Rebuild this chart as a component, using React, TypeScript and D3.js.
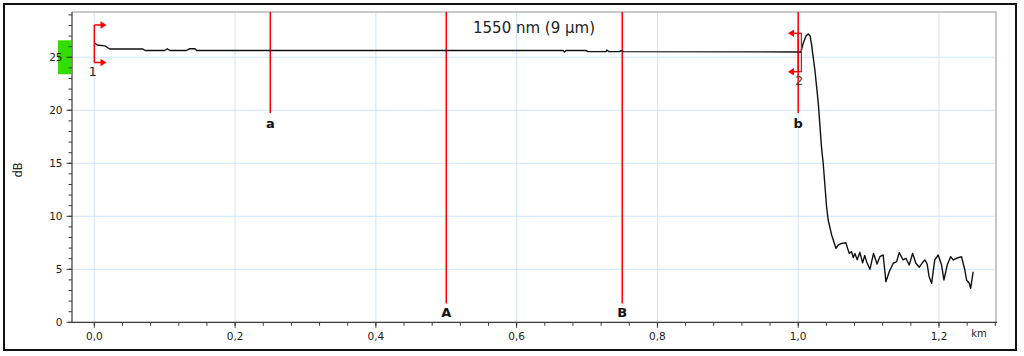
import React from "react";
import * as d3 from "d3";

// ---- data ----
const traceDist: number[] = [
  0.001, 0.004, 0.015, 0.022, 0.069, 0.072, 0.1, 0.1037, 0.1075, 0.131, 0.135, 0.143, 0.1455,
  0.4, 0.666, 0.668, 0.67, 0.699, 0.701, 0.727, 0.728, 0.731, 0.746, 0.748, 0.752, 1.0,
  1.0037, 1.007, 1.011, 1.0142, 1.017, 1.019, 1.0237, 1.0285, 1.033, 1.0355, 1.0403,
  1.0426, 1.0475, 1.0536, 1.0568, 1.0616, 1.0677, 1.0724, 1.0758, 1.0782, 1.0805, 1.0838, 1.0876,
  1.0915, 1.0945, 1.0972, 1.1019, 1.107, 1.112, 1.1161, 1.1207, 1.1246, 1.1293, 1.135, 1.1398,
  1.1435, 1.1491, 1.153, 1.1577, 1.1625, 1.1672, 1.172, 1.1776, 1.18, 1.1832, 1.186,
  1.1895, 1.194, 1.1989, 1.2037, 1.207, 1.2117, 1.2165, 1.2203, 1.225, 1.232, 1.2368,
  1.2392, 1.243, 1.245, 1.2486,
];
const traceDb: number[] = [
  26.32, 26.16, 26.07, 25.78, 25.78, 25.64, 25.64, 25.8, 25.64, 25.64, 25.8, 25.8, 25.64,
  25.64, 25.64, 25.5, 25.64, 25.64, 25.53, 25.53, 25.68, 25.53, 25.53, 25.62, 25.53, 25.5,
  25.47, 26.3, 27.0, 27.2, 27.0, 26.2, 23.8, 20.7, 16.6, 15.0, 10.9,
  9.65, 8.24, 6.98, 7.29, 7.45, 7.5, 6.5, 6.66, 6.1, 6.5, 5.9, 6.6,
  5.6, 6.3, 5.72, 5.0, 6.5, 5.5, 6.19, 6.35, 3.83, 4.77, 5.57, 5.72,
  6.57, 5.88, 6.04, 5.4, 6.5, 5.57, 5.2, 5.72, 5.88, 5.5, 4.3,
  3.68, 5.88, 6.35, 5.4, 3.99, 5.4, 6.19, 5.88, 6.04, 6.19, 4.93,
  3.99, 3.68, 3.2, 4.77,
];

const xMajorTicks: number[] = [0, 0.2, 0.4, 0.6, 0.8, 1.0, 1.2];
const yMajorTicks: number[] = [0, 5, 10, 15, 20, 25];

const cursorNames: string[] = ["a", "A", "B", "b"];
const cursorDist: number[] = [0.25, 0.5, 0.75, 1.0];
const cursorLong: boolean[] = [false, true, true, false];

const eventNames: string[] = ["1", "2"];
const eventDist: number[] = [0.0, 1.0];

const levelBandDb: number[] = [23.4, 26.6];

const title = "1550 nm (9 µm)";
const xUnit = "km";
const yUnit = "dB";

// ---- layout ----
const W = 1024;
const H = 356;
const L = 72, R = 996, T = 12, B = 322.3;

const x = d3.scaleLinear().domain([-0.0317, 1.281]).range([L, R]);
const y = d3.scaleLinear().domain([0, 29.27]).range([B, T]);

const fmt = d3.formatLocale({ decimal: ",", thousands: ".", grouping: [3], currency: ["", ""] }).format(".1f");

const FONT = "'DejaVu Sans', Verdana, sans-serif";
const RED = "#ff0000";
const GRID = "#cfe5fa";
const AXIS = "#3a3a3a";

export default function App() {
  const xMinor = d3.range(0, 1.2801, 0.04);
  const yMinor = d3.range(0, 29.5, 1);
  const pts: [number, number][] = traceDist.map((d, i) => [d, traceDb[i]]);
  const line = d3.line<[number, number]>().x((p) => x(p[0])).y((p) => y(p[1]));

  const arrowRight = (tipX: number, cy: number) =>
    `M${tipX},${cy} L${tipX - 6},${cy - 3.8} L${tipX - 6},${cy + 3.8} Z`;
  const arrowLeft = (tipX: number, cy: number) =>
    `M${tipX},${cy} L${tipX + 6},${cy - 3.8} L${tipX + 6},${cy + 3.8} Z`;

  const e1 = x(eventDist[0]);
  const e2 = x(eventDist[1]);

  return (
    <svg width={W} height={H} style={{ position: "absolute", left: 0, top: 0, background: "#fff" }} fontFamily={FONT}>
      <rect x={0} y={0} width={W} height={H} fill="#fff" />
      {/* outer frame */}
      <rect x={4} y={4} width={1012} height={346} fill="none" stroke="#111" strokeWidth={2} />

      {/* gridlines */}
      {xMajorTicks.map((t) => (
        <line key={"gx" + t} x1={x(t)} x2={x(t)} y1={T} y2={B} stroke={GRID} strokeWidth={1} />
      ))}
      {yMajorTicks.filter((t) => t > 0).map((t) => (
        <line key={"gy" + t} x1={L} x2={R} y1={y(t)} y2={y(t)} stroke={GRID} strokeWidth={1} />
      ))}

      {/* plot frame top/right */}
      <line x1={L} x2={R + 1} y1={T} y2={T} stroke="#c8c8c8" strokeWidth={2} />
      <line x1={R} x2={R} y1={T} y2={B} stroke="#c8c8c8" strokeWidth={2} />

      {/* level band */}
      <rect x={58} y={y(levelBandDb[1])} width={13} height={y(levelBandDb[0]) - y(levelBandDb[1])} fill="#33dd00" />

      {/* axes */}
      <line x1={L} x2={L} y1={T} y2={B} stroke={AXIS} strokeWidth={1.2} />
      <line x1={L} x2={R + 1} y1={B} y2={B} stroke={AXIS} strokeWidth={1.2} />
      {xMinor.map((t) => (
        <line key={"xm" + t} x1={x(t)} x2={x(t)} y1={B} y2={B + 3.5} stroke={AXIS} strokeWidth={1} />
      ))}
      {xMajorTicks.map((t) => (
        <g key={"xt" + t}>
          <line x1={x(t)} x2={x(t)} y1={B} y2={B + 5.5} stroke={AXIS} strokeWidth={1} />
          <text x={x(t)} y={340} textAnchor="middle" fontSize={10.5} fill="#1a1a1a">{fmt(t)}</text>
        </g>
      ))}
      {yMinor.map((t) => (
        <line key={"ym" + t} x1={L - 3.5} x2={L} y1={y(t)} y2={y(t)} stroke={AXIS} strokeWidth={1} />
      ))}
      {yMajorTicks.map((t) => (
        <g key={"yt" + t}>
          <line x1={L - 5.5} x2={L} y1={y(t)} y2={y(t)} stroke={AXIS} strokeWidth={1} />
          <text x={62.5} y={y(t) + 3.8} textAnchor="end" fontSize={10.5} fill="#1a1a1a">{t}</text>
        </g>
      ))}
      <text x={979} y={337} textAnchor="middle" fontSize={10} fill="#222">{xUnit}</text>
      <text transform="translate(22,170) rotate(-90)" textAnchor="middle" fontSize={11.5} fill="#222">{yUnit}</text>

      {/* title */}
      <text x={534} y={33} textAnchor="middle" fontSize={15} fill="#222">{title}</text>

      {/* cursors */}
      {cursorDist.map((d, i) => (
        <g key={"c" + i}>
          <line x1={x(d)} x2={x(d)} y1={T} y2={cursorLong[i] ? 303.5 : 113} stroke={RED} strokeWidth={1.5} />
          <text x={x(d)} y={cursorLong[i] ? 316.5 : 128} textAnchor="middle" fontSize={13} fontWeight="bold" fill="#111">
            {cursorNames[i]}
          </text>
        </g>
      ))}

      {/* trace */}
      <path d={line(pts) || ""} fill="none" stroke="#111" strokeWidth={1.4} strokeLinejoin="round" />

      {/* event 1 bracket */}
      <g>
        <line x1={e1} x2={e1} y1={25} y2={62.5} stroke={RED} strokeWidth={1.5} />
        <line x1={e1} x2={101} y1={25} y2={25} stroke={RED} strokeWidth={1.5} />
        <line x1={e1} x2={101} y1={62.5} y2={62.5} stroke={RED} strokeWidth={1.5} />
        <path d={arrowRight(106.5, 25)} fill={RED} />
        <path d={arrowRight(106.5, 62.5)} fill={RED} />
        <text x={e1 - 1.5} y={76} textAnchor="middle" fontSize={12.5} fill="#222">{eventNames[0]}</text>
      </g>
      {/* event 2 bracket */}
      <g>
        <rect x={e2} y={33.3} width={3.2} height={38.4} fill="none" stroke={RED} strokeWidth={1.2} />
        <line x1={793} x2={e2} y1={33.3} y2={33.3} stroke={RED} strokeWidth={1.5} />
        <line x1={793} x2={e2} y1={71.7} y2={71.7} stroke={RED} strokeWidth={1.5} />
        <path d={arrowLeft(788, 33.3)} fill={RED} />
        <path d={arrowLeft(788, 71.7)} fill={RED} />
        <text x={e2 + 1} y={85} textAnchor="middle" fontSize={12.5} fill="#444">{eventNames[1]}</text>
      </g>
    </svg>
  );
}
